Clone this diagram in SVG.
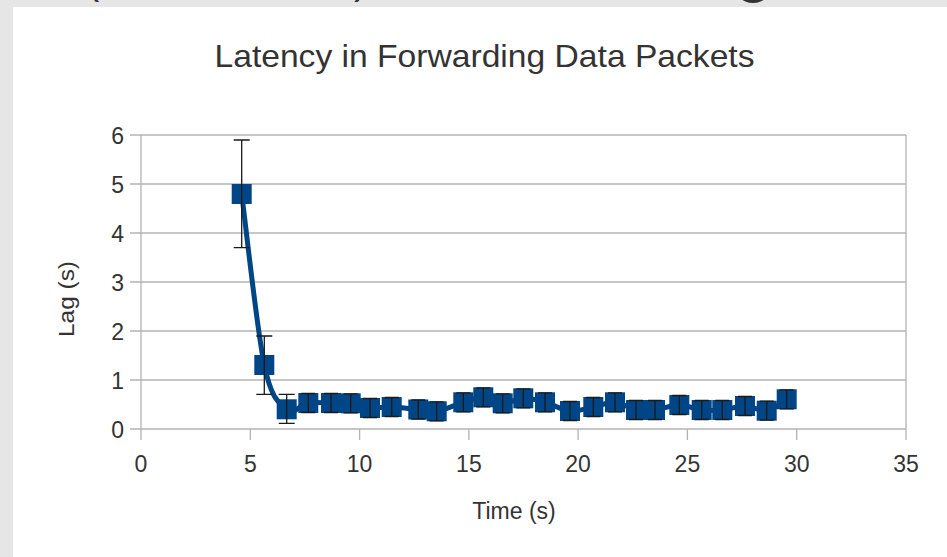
<svg xmlns="http://www.w3.org/2000/svg" width="947" height="557" viewBox="0 0 947 557">
<style>
.t{font-family:"Liberation Sans",Arial,sans-serif;fill:#333333}
.tick{font-size:23px}
.grid{stroke:#b3b3b3;stroke-width:1.3;fill:none}
.mk{fill:#004586}
.eb{stroke:#1a1a1a;stroke-width:1.3;fill:none}
</style>
<rect x="0" y="0" width="947" height="557" fill="#e6e6e6"/>
<rect x="13" y="7" width="934" height="550" fill="#ffffff"/>
<g id="cropped-top">
<text class="t" x="86" y="-6.5" font-size="40">(</text>
<text class="t" x="354" y="-6.5" font-size="40">)</text>
<circle cx="753" cy="-17" r="20" fill="#333333"/>
</g>
<g id="title"><text class="t" x="484.5" y="67" font-size="31.5" text-anchor="middle" textLength="540" lengthAdjust="spacingAndGlyphs">Latency in Forwarding Data Packets</text></g>
<g id="grid">
<line class="grid" x1="130" y1="135" x2="906" y2="135"/>
<line class="grid" x1="130" y1="184" x2="906" y2="184"/>
<line class="grid" x1="130" y1="233" x2="906" y2="233"/>
<line class="grid" x1="130" y1="282" x2="906" y2="282"/>
<line class="grid" x1="130" y1="331" x2="906" y2="331"/>
<line class="grid" x1="130" y1="380" x2="906" y2="380"/>
<line class="grid" x1="130" y1="429" x2="906" y2="429"/>
<line class="grid" x1="141" y1="135" x2="141" y2="440"/>
<line class="grid" x1="906" y1="135" x2="906" y2="440"/>
<line class="grid" x1="250.3" y1="429" x2="250.3" y2="440"/>
<line class="grid" x1="359.6" y1="429" x2="359.6" y2="440"/>
<line class="grid" x1="468.9" y1="429" x2="468.9" y2="440"/>
<line class="grid" x1="578.1" y1="429" x2="578.1" y2="440"/>
<line class="grid" x1="687.4" y1="429" x2="687.4" y2="440"/>
<line class="grid" x1="796.7" y1="429" x2="796.7" y2="440"/>
</g>
<g id="y-labels" class="t tick" text-anchor="end">
<text x="124" y="144">6</text>
<text x="124" y="193">5</text>
<text x="124" y="242">4</text>
<text x="124" y="291">3</text>
<text x="124" y="340">2</text>
<text x="124" y="389">1</text>
<text x="124" y="438">0</text>
</g>
<g id="x-labels" class="t tick" text-anchor="middle">
<text x="141" y="472">0</text>
<text x="250.3" y="472">5</text>
<text x="359.6" y="472">10</text>
<text x="468.9" y="472">15</text>
<text x="578.1" y="472">20</text>
<text x="687.4" y="472">25</text>
<text x="796.7" y="472">30</text>
<text x="906" y="472">35</text>
</g>
<g id="axis-titles">
<text class="t" x="514" y="519" font-size="23" text-anchor="middle">Time (s)</text>
<text class="t" font-size="22" text-anchor="middle" textLength="76" lengthAdjust="spacingAndGlyphs" transform="translate(74,299) rotate(-90)">Lag (s)</text>
</g>
<g id="connectors">
<path d="M241.7,194 C245.5,222.5 256.8,329.1 264.3,365 C271.8,400.9 279.4,403 286.7,409.3 C294,415.6 300.9,404.1 308.3,403 C315.7,402 323.9,403 331,403 C338.1,403.1 344.2,402.5 350.7,403.3 C357.2,404.1 363.2,407.4 370,408 C376.8,408.6 383.7,406.8 391.7,407 C399.8,407.3 410.8,408.8 418.3,409.5 C425.8,410.2 429.2,412.5 436.7,411.3 C444.2,410.1 455.5,404.6 463.3,402.3 C471.1,400 476.7,397.1 483.3,397.3 C489.9,397.5 496,403.1 502.7,403.3 C509.4,403.5 516.3,398.5 523.3,398.3 C530.4,398.1 537.2,400.2 545,402.3 C552.8,404.4 562,410.2 570,411 C578.1,411.8 585.8,408.5 593.3,407 C600.8,405.5 607.9,401.8 615,402.3 C622.1,402.8 629.3,408.7 636,410 C642.7,411.3 647.8,410.8 655,410 C662.2,409.2 671.5,405 679.3,405 C687.1,405 694.5,409.2 701.7,410 C708.9,410.8 715.1,410.7 722.3,410 C729.5,409.3 737.6,405.9 745,406 C752.4,406.1 759.8,411.8 766.7,410.7 C773.7,409.6 783.4,401.2 786.7,399.3" fill="none" stroke="#004586" stroke-width="5" stroke-linejoin="round" stroke-linecap="round"/>
</g>
<g id="markers">
<rect class="mk" x="231.7" y="184" width="20" height="20"/>
<rect class="mk" x="254.3" y="355" width="20" height="20"/>
<rect class="mk" x="276.7" y="399.3" width="20" height="20"/>
<rect class="mk" x="298.3" y="393" width="20" height="20"/>
<rect class="mk" x="321" y="393" width="20" height="20"/>
<rect class="mk" x="340.7" y="393.3" width="20" height="20"/>
<rect class="mk" x="360" y="398" width="20" height="20"/>
<rect class="mk" x="381.7" y="397" width="20" height="20"/>
<rect class="mk" x="408.3" y="399.5" width="20" height="20"/>
<rect class="mk" x="426.7" y="401.3" width="20" height="20"/>
<rect class="mk" x="453.3" y="392.3" width="20" height="20"/>
<rect class="mk" x="473.3" y="387.3" width="20" height="20"/>
<rect class="mk" x="492.7" y="393.3" width="20" height="20"/>
<rect class="mk" x="513.3" y="388.3" width="20" height="20"/>
<rect class="mk" x="535" y="392.3" width="20" height="20"/>
<rect class="mk" x="560" y="401" width="20" height="20"/>
<rect class="mk" x="583.3" y="397" width="20" height="20"/>
<rect class="mk" x="605" y="392.3" width="20" height="20"/>
<rect class="mk" x="626" y="400" width="20" height="20"/>
<rect class="mk" x="645" y="400" width="20" height="20"/>
<rect class="mk" x="669.3" y="395" width="20" height="20"/>
<rect class="mk" x="691.7" y="400" width="20" height="20"/>
<rect class="mk" x="712.3" y="400" width="20" height="20"/>
<rect class="mk" x="735" y="396" width="20" height="20"/>
<rect class="mk" x="756.7" y="400.7" width="20" height="20"/>
<rect class="mk" x="776.7" y="389.3" width="20" height="20"/>
</g>
<g id="error-bars" class="eb">
<path d="M241.7,140 V247.7 M233.7,140 H249.7 M233.7,247.7 H249.7"/>
<path d="M264.3,336 V394.3 M256.3,336 H272.3 M256.3,394.3 H272.3"/>
<path d="M286.7,394.3 V423.3 M278.7,394.3 H294.7 M278.7,423.3 H294.7"/>
<path d="M308.3,393.5 V412.5 M301.3,393.5 H315.3 M301.3,412.5 H315.3"/>
<path d="M331,393.5 V412.5 M324,393.5 H338 M324,412.5 H338"/>
<path d="M350.7,393.8 V412.8 M343.7,393.8 H357.7 M343.7,412.8 H357.7"/>
<path d="M370,398.5 V417.5 M363,398.5 H377 M363,417.5 H377"/>
<path d="M391.7,397.5 V416.5 M384.7,397.5 H398.7 M384.7,416.5 H398.7"/>
<path d="M418.3,400 V419 M411.3,400 H425.3 M411.3,419 H425.3"/>
<path d="M436.7,401.8 V420.8 M429.7,401.8 H443.7 M429.7,420.8 H443.7"/>
<path d="M463.3,392.8 V411.8 M456.3,392.8 H470.3 M456.3,411.8 H470.3"/>
<path d="M483.3,387.8 V406.8 M476.3,387.8 H490.3 M476.3,406.8 H490.3"/>
<path d="M502.7,393.8 V412.8 M495.7,393.8 H509.7 M495.7,412.8 H509.7"/>
<path d="M523.3,388.8 V407.8 M516.3,388.8 H530.3 M516.3,407.8 H530.3"/>
<path d="M545,392.8 V411.8 M538,392.8 H552 M538,411.8 H552"/>
<path d="M570,401.5 V420.5 M563,401.5 H577 M563,420.5 H577"/>
<path d="M593.3,397.5 V416.5 M586.3,397.5 H600.3 M586.3,416.5 H600.3"/>
<path d="M615,392.8 V411.8 M608,392.8 H622 M608,411.8 H622"/>
<path d="M636,400.5 V419.5 M629,400.5 H643 M629,419.5 H643"/>
<path d="M655,400.5 V419.5 M648,400.5 H662 M648,419.5 H662"/>
<path d="M679.3,395.5 V414.5 M672.3,395.5 H686.3 M672.3,414.5 H686.3"/>
<path d="M701.7,400.5 V419.5 M694.7,400.5 H708.7 M694.7,419.5 H708.7"/>
<path d="M722.3,400.5 V419.5 M715.3,400.5 H729.3 M715.3,419.5 H729.3"/>
<path d="M745,396.5 V415.5 M738,396.5 H752 M738,415.5 H752"/>
<path d="M766.7,401.2 V420.2 M759.7,401.2 H773.7 M759.7,420.2 H773.7"/>
<path d="M786.7,389.8 V408.8 M779.7,389.8 H793.7 M779.7,408.8 H793.7"/>
</g>
</svg>
